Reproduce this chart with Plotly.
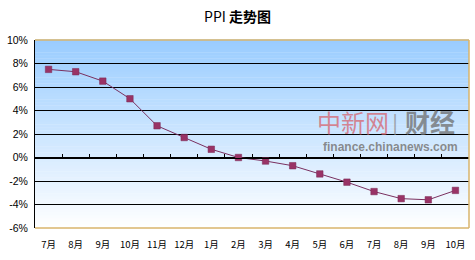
import plotly.graph_objects as go

months = ["7月", "8月", "9月", "10月", "11月", "12月", "1月", "2月",
          "3月", "4月", "5月", "6月", "7月", "8月", "9月", "10月"]
ppi = [7.5, 7.3, 6.5, 5.0, 2.7, 1.7, 0.7, 0.0,
       -0.3, -0.7, -1.4, -2.1, -2.9, -3.5, -3.6, -2.8]
y_ticks = [10, 8, 6, 4, 2, 0, -2, -4, -6]
y_labels = [f"{v}%" for v in y_ticks]

n = len(months)
xs = list(range(n))
ymin, ymax = -6, 10

fig = go.Figure()

fig.add_trace(go.Scatter(
    x=xs, y=ppi, mode="lines+markers",
    line=dict(color="#7a3060", width=1),
    marker=dict(symbol="square", size=6.5, color="#993366",
                line=dict(color="#7a2a55", width=0.5)),
    xaxis="x", yaxis="y", showlegend=False, hoverinfo="skip",
))
# empty trace so the zero-line axis (x2) is registered
fig.add_trace(go.Scatter(x=[None], y=[None], xaxis="x2", yaxis="y",
                         showlegend=False, hoverinfo="skip"))

# gradient background bands (below gridlines)
shapes = []
nb = 60
top = (153, 204, 255)
bot = (255, 255, 255)
for i in range(nb):
    f0 = i / nb
    f1 = (i + 1) / nb
    fm = (f0 + f1) / 2
    c = tuple(round(bot[k] + (top[k] - bot[k]) * fm) for k in range(3))
    shapes.append(dict(type="rect", xref="x domain", yref="y domain",
                       x0=0, x1=1, y0=f0, y1=f1 + 0.002, layer="below",
                       line=dict(width=0), fillcolor=f"rgb{c}"))
tan = "#D8B46C"
for (x0, y0, x1, y1) in [(0, 1, 1, 1), (1, 0, 1, 1), (0, 0, 1, 0)]:
    shapes.append(dict(type="line", xref="x domain", yref="y domain",
                       x0=x0, y0=y0, x1=x1, y1=y1, layer="above",
                       line=dict(color=tan, width=1.5)))

zero_pos = (0 - ymin) / (ymax - ymin)

fig.update_layout(
    width=475, height=260,
    margin=dict(l=35, r=6, t=40, b=32),
    paper_bgcolor="white", plot_bgcolor="white",
    shapes=shapes,
    title=dict(text="PPI <b>走势图</b>", x=0.5, xanchor="center",
               y=0.935, yanchor="middle",
               font=dict(family="Noto Sans CJK SC", size=14, color="black")),
    xaxis=dict(
        type="linear", range=[-0.5, n - 0.5],
        tickvals=xs, ticktext=months, showline=False, showgrid=False,
        zeroline=False, ticks="", ticklabelstandoff=9,
        tickfont=dict(family="Noto Sans CJK SC", size=9.5, color="black"),
    ),
    xaxis2=dict(
        overlaying="x", anchor="free", position=zero_pos, side="bottom",
        range=[-0.5, n - 0.5], showline=True, linecolor="black", linewidth=1,
        ticks="inside", ticklen=4, tickcolor="black",
        tickvals=[i + 0.5 for i in range(n - 1)],
        showticklabels=False, showgrid=False, zeroline=False,
    ),
    yaxis=dict(
        range=[ymin, ymax], tickvals=y_ticks, ticktext=y_labels,
        showgrid=True, gridcolor="black", gridwidth=1,
        zeroline=False, showline=True, linecolor="black", linewidth=1,
        ticks="", ticklabelstandoff=4,
        tickfont=dict(family="Liberation Sans", size=10.5, color="black"),
    ),
    annotations=[
        dict(text="中新网", xref="paper", yref="paper", x=0.733, y=0.569,
             xanchor="center", yanchor="middle",
             showarrow=False, font=dict(family="Noto Sans CJK SC", size=24,
                                         color="rgba(214,100,110,0.75)")),
        dict(text="|", xref="paper", yref="paper", x=0.829, y=0.569,
             xanchor="center", yanchor="middle",
             showarrow=False, font=dict(family="Noto Sans", size=22,
                                         color="rgba(140,140,140,0.7)")),
        dict(text="<b>财经</b>", xref="paper", yref="paper", x=0.910, y=0.569,
             xanchor="center", yanchor="middle",
             showarrow=False, font=dict(family="Noto Sans CJK SC", size=25,
                                         color="rgba(110,110,110,0.75)")),
        dict(text="<b>finance.chinanews.com</b>", xref="paper", yref="paper",
             x=0.818, y=0.431, xanchor="center", yanchor="middle",
             showarrow=False,
             font=dict(family="Liberation Sans", size=12,
                       color="rgba(120,120,120,0.85)")),
    ],
)

fig.write_html("out.html")
